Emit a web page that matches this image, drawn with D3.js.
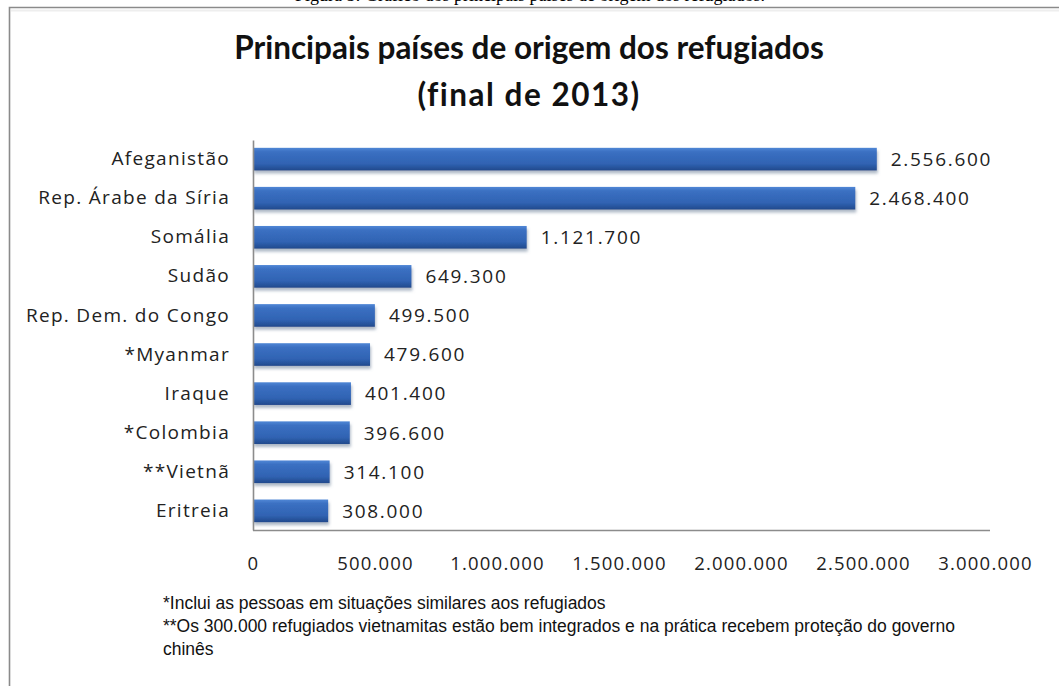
<!DOCTYPE html>
<html>
<head>
<meta charset="utf-8">
<script src="https://cdn.jsdelivr.net/npm/d3@7"></script>
<style>
  body { margin: 0; background: #fff; }
  svg { display: block; }
</style>
</head>
<body>
<svg width="1059" height="686"></svg>
<script>
const countries = ['Afeganistão', 'Rep. Árabe da Síria', 'Somália', 'Sudão', 'Rep. Dem. do Congo',
    '*Myanmar', 'Iraque', '*Colombia', '**Vietnã', 'Eritreia'];
const refugees = [2556600, 2468400, 1121700, 649300, 499500, 479600, 401400, 396600, 314100, 308000];
const xTicks = [0, 500000, 1000000, 1500000, 2000000, 2500000, 3000000];
const titleLines = ['Principais países de origem dos refugiados', '(final de 2013)'];
const notes = ['*Inclui as pessoas em situações similares aos refugiados',
    '**Os 300.000 refugiados vietnamitas estão bem integrados e na prática recebem proteção do governo',
    'chinês'];

const data = countries.map((c, i) => ({ country: c, value: refugees[i] }));

const svg = d3.select('svg');
const ptBR = d3.formatLocale({ decimal: ',', thousands: '.', grouping: [3], currency: ['R$', ''] });
const fmt = ptBR.format(',d');

const render = data => {
    const xValue = d => d.value;
    const yValue = d => d.country;
    const margin = { top: 140, right: 74, bottom: 156, left: 253 };
    const innerWidth = 1059 - margin.left - margin.right;
    const innerHeight = 686 - margin.top - margin.bottom;

    // frame of the picture
    svg.append('rect').attr('width', 1059).attr('height', 686).attr('fill', '#fff');
    svg.append('text')
        .attr('x', 530).attr('y', 1)
        .attr('text-anchor', 'middle')
        .attr('font-family', 'Liberation Serif')
        .attr('font-size', 18)
        .text('Figura 5: Gráfico dos principais países de origem dos refugiados.');
    svg.append('path')
        .attr('d', 'M9.5,686 V7.5 H1059')
        .attr('fill', 'none').attr('stroke', '#8a8a8a').attr('stroke-width', 1.6);
    svg.append('path')
        .attr('d', 'M11,10.5 H1059')
        .attr('stroke', '#eeeeee').attr('stroke-width', 2);

    const defs = svg.append('defs');
    const grad = defs.append('linearGradient')
        .attr('id', 'barFill').attr('x1', 0).attr('y1', 0).attr('x2', 0).attr('y2', 1);
    [['0%', '#5087d6'], ['18%', '#3b70c2'], ['70%', '#3063b3'], ['100%', '#21498c']]
        .forEach(([o, c]) => grad.append('stop').attr('offset', o).attr('stop-color', c));
    const shadow = defs.append('filter').attr('id', 'shadow')
        .attr('x', '-5%').attr('y', '-20%').attr('width', '110%').attr('height', '160%');
    shadow.append('feDropShadow')
        .attr('dx', 1).attr('dy', 3).attr('stdDeviation', 1.5)
        .attr('flood-color', '#6d7f99').attr('flood-opacity', 0.55);

    // title
    svg.append('g').selectAll('text').data(titleLines)
        .enter().append('text')
            .attr('x', 529)
            .attr('y', (d, i) => 59 + i * 47)
            .attr('text-anchor', 'middle')
            .attr('font-family', 'Lato')
            .attr('font-weight', 'bold')
            .attr('font-size', 31.5)
            .attr('letter-spacing', (d, i) => i ? 1.5 : 0)
            .style('font-variant-ligatures', 'none')
            .attr('fill', '#111')
            .text(d => d);

    const xScale = d3.scaleLinear()
        .domain([0, 3000000])
        .range([0, innerWidth]);

    const yScale = d3.scaleBand()
        .domain(data.map(yValue))
        .range([0, innerHeight])
        .paddingInner(0.42)
        .paddingOuter(0.2);

    const g = svg.append('g')
        .attr('transform', `translate(${margin.left}, ${margin.top})`);

    g.selectAll('rect.bar').data(data)
        .enter().append('rect')
            .attr('class', 'bar')
            .attr('x', 0)
            .attr('y', d => yScale(yValue(d)))
            .attr('width', d => xScale(xValue(d)))
            .attr('height', yScale.bandwidth())
            .attr('fill', 'url(#barFill)')
            .attr('filter', 'url(#shadow)');

    g.selectAll('text.val').data(data)
        .enter().append('text')
            .attr('class', 'val')
            .attr('x', d => xScale(xValue(d)) + 14)
            .attr('y', d => yScale(yValue(d)) + yScale.bandwidth() / 2)
            .attr('dy', '0.36em')
            .attr('font-family', 'Open Sans')
            .attr('font-size', 19)
            .attr('letter-spacing', 1.7)
            .attr('fill', '#222')
            .text(d => fmt(xValue(d)));

    const yAxis = g.append('g')
        .call(d3.axisLeft(yScale).tickSize(0).tickPadding(23));
    yAxis.selectAll('text')
        .attr('font-family', 'Open Sans')
        .attr('font-size', 19)
        .attr('letter-spacing', 1.3)
        .attr('fill', '#222');

    const xAxis = g.append('g')
        .attr('transform', `translate(0, ${innerHeight})`)
        .call(d3.axisBottom(xScale).tickValues(xTicks).tickFormat(fmt).tickSize(0).tickSizeOuter(0).tickPadding(27));
    xAxis.selectAll('text')
        .attr('font-family', 'Open Sans')
        .attr('font-size', 18.5)
        .attr('letter-spacing', 1.2)
        .attr('fill', '#222');

    g.selectAll('.domain')
        .attr('stroke', '#8c8c8c')
        .attr('stroke-width', 1.6);
    xAxis.select('.domain').attr('d', `M0,0.5H${innerWidth + 5}`);

    // footnotes
    svg.append('g').selectAll('text').data(notes)
        .enter().append('text')
            .attr('x', 163)
            .attr('y', (d, i) => 609 + i * 23)
            .attr('font-family', 'Liberation Sans Narrow, Liberation Sans')
            .attr('font-size', 17.5)
            .attr('fill', '#111')
            .text(d => d);
};

render(data);
</script>
</body>
</html>
